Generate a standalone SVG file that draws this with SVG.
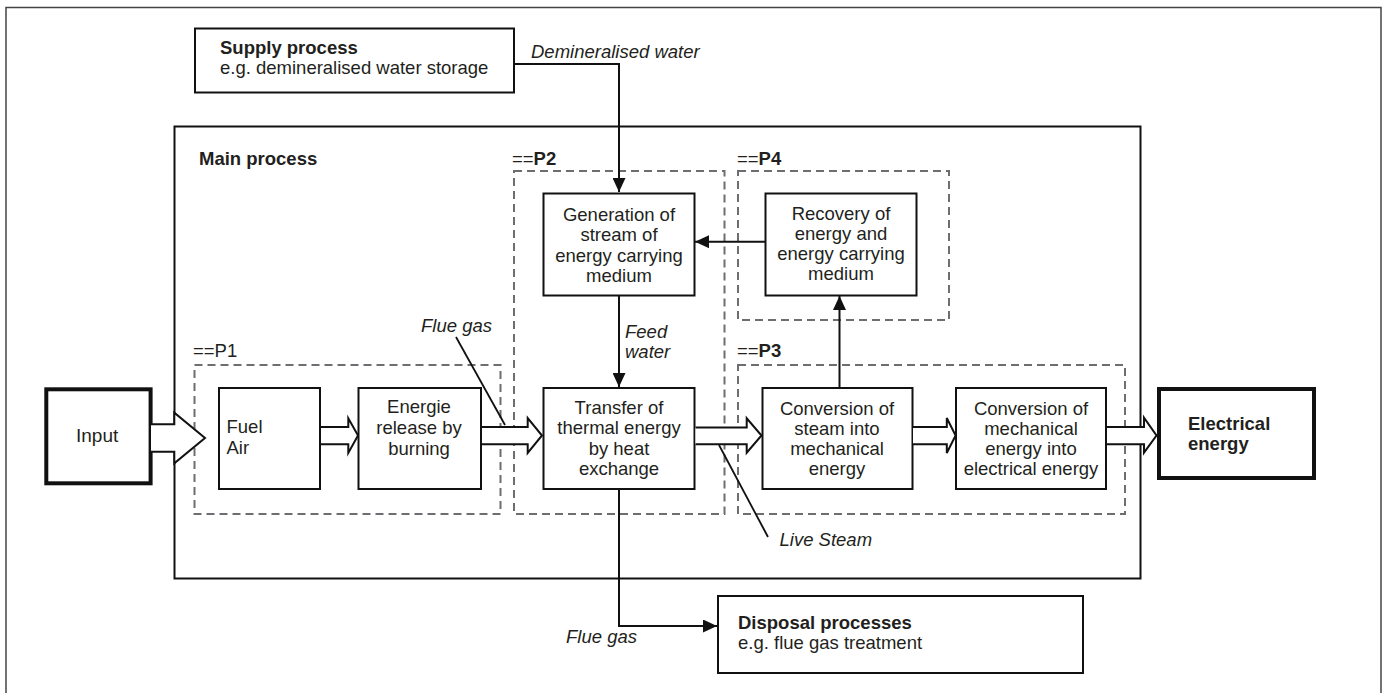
<svg xmlns="http://www.w3.org/2000/svg" width="1385" height="693" viewBox="0 0 1385 693">
  <defs>
    <style>
      text { font-family: "Liberation Sans", Arial, sans-serif; font-size: 18.5px; fill: #231f20; }
      .c { text-anchor: middle; }
      .b { font-weight: bold; }
      .i { font-style: italic; }
      .box { fill: #fff; stroke: #111; stroke-width: 2; }
      .thick { fill: #fff; stroke: #111; stroke-width: 4; }
      .group { fill: none; stroke: #6d6e71; stroke-width: 2; stroke-dasharray: 8 5; }
      .frame { fill: none; stroke: #444; stroke-width: 1.5; }
      .main { fill: none; stroke: #111; stroke-width: 2; }
      .flow { fill: none; stroke: #111; stroke-width: 2; }
      .block { fill: #fff; stroke: #111; stroke-width: 2; stroke-linejoin: miter; }
      .lead { fill: none; stroke: #111; stroke-width: 1.8; }
    </style>
    <marker id="head" markerUnits="userSpaceOnUse" markerWidth="14" markerHeight="13" refX="14" refY="6.5" orient="auto">
      <path d="M0,0 L14,6.5 L0,13 z" fill="#111"/>
    </marker>
  </defs>

  <!-- outer frame -->
  <rect class="frame" x="6" y="7.5" width="1375" height="700"/>

  <!-- supply process -->
  <g id="supply">
    <rect class="box" x="195" y="28.5" width="319" height="64"/>
    <text class="b" x="220" y="54">Supply process</text>
    <text x="220" y="74">e.g. demineralised water storage</text>
  </g>

  <!-- main process container -->
  <g id="main-process">
    <rect class="main" x="174.5" y="126.5" width="966" height="452"/>
    <text class="b" x="199" y="165">Main process</text>
  </g>

  <!-- sub-process groups -->
  <g id="P1">
    <rect class="group" x="194.5" y="365" width="306" height="149"/>
    <text x="193" y="357">==P1</text>
  </g>
  <g id="P2">
    <rect class="group" x="514" y="171" width="210.5" height="343"/>
    <text x="512" y="165">==<tspan class="b">P2</tspan></text>
  </g>
  <g id="P3">
    <rect class="group" x="738" y="365" width="387" height="149"/>
    <text x="737" y="357">==<tspan class="b">P3</tspan></text>
  </g>
  <g id="P4">
    <rect class="group" x="738" y="171" width="211" height="149"/>
    <text x="737" y="165">==<tspan class="b">P4</tspan></text>
  </g>

  <!-- input / output -->
  <g id="input">
    <rect class="thick" x="46.3" y="389.3" width="104.3" height="94"/>
    <text x="76" y="442" style="font-size:19px">Input</text>
  </g>
  <g id="electrical-energy">
    <rect class="thick" x="1159" y="389" width="155" height="89"/>
    <text class="b" x="1188" y="430">Electrical</text>
    <text class="b" x="1188" y="450">energy</text>
  </g>

  <!-- process steps -->
  <g id="fuel-air">
    <rect class="box" x="219" y="388" width="101" height="101"/>
    <text x="226.5" y="433">Fuel</text>
    <text x="226.5" y="454">Air</text>
  </g>
  <g id="energy-release">
    <rect class="box" x="358.5" y="388" width="122.5" height="101"/>
    <text class="c" x="419" y="413">Energie</text>
    <text class="c" x="419" y="434">release by</text>
    <text class="c" x="419" y="455">burning</text>
  </g>
  <g id="generation">
    <rect class="box" x="543.5" y="193.5" width="151" height="102"/>
    <text class="c" x="619" y="221">Generation of</text>
    <text class="c" x="619" y="241">stream of</text>
    <text class="c" x="619" y="261.5">energy carrying</text>
    <text class="c" x="619" y="281.5">medium</text>
  </g>
  <g id="transfer">
    <rect class="box" x="543.5" y="388" width="151" height="101"/>
    <text class="c" x="619" y="414">Transfer of</text>
    <text class="c" x="619" y="434">thermal energy</text>
    <text class="c" x="619" y="454.5">by heat</text>
    <text class="c" x="619" y="474.5">exchange</text>
  </g>
  <g id="recovery">
    <rect class="box" x="765.5" y="193.5" width="151" height="102"/>
    <text class="c" x="841" y="219.5">Recovery of</text>
    <text class="c" x="841" y="239.5">energy and</text>
    <text class="c" x="841" y="259.5">energy carrying</text>
    <text class="c" x="841" y="280">medium</text>
  </g>
  <g id="steam-conversion">
    <rect class="box" x="762.5" y="388" width="150" height="101"/>
    <text class="c" x="837" y="415">Conversion of</text>
    <text class="c" x="837" y="435">steam into</text>
    <text class="c" x="837" y="455">mechanical</text>
    <text class="c" x="837" y="475">energy</text>
  </g>
  <g id="mechanical-conversion">
    <rect class="box" x="956" y="388" width="150" height="101"/>
    <text class="c" x="1031" y="414.5">Conversion of</text>
    <text class="c" x="1031" y="435">mechanical</text>
    <text class="c" x="1031" y="455">energy into</text>
    <text class="c" x="1031" y="474.5">electrical energy</text>
  </g>

  <!-- disposal process -->
  <g id="disposal">
    <rect class="box" x="718" y="596" width="365" height="77"/>
    <text class="b" x="738" y="629">Disposal processes</text>
    <text x="738" y="649">e.g. flue gas treatment</text>
  </g>

  <!-- connectors -->
  <g id="connectors">
    <!-- thin flows with arrowheads -->
    <path class="flow" d="M514,64 H619 V192" marker-end="url(#head)"/>
    <path class="flow" d="M619,296 V387" marker-end="url(#head)"/>
    <path class="flow" d="M765,241.7 H695" marker-end="url(#head)"/>
    <path class="flow" d="M839.5,387 V296" marker-end="url(#head)"/>
    <path class="flow" d="M619,490 V626 H717" marker-end="url(#head)"/>

    <!-- block arrows along the main energy path -->
    <path class="block" d="M151,424.3 H174.3 V412.7 L205,438 L174.3,463.3 V451.7 H151"/>
    <path class="block" d="M321,427 H348.3 V418.3 L358,435.5 L348.3,453 V444.3 H321"/>
    <path class="block" d="M482,427 H527.7 V418 L542,435.5 L527.7,453 V444.3 H482"/>
    <path class="block" d="M695.5,427.5 H746.7 V418.3 L761.5,435.5 L746.7,452.7 V444.3 H695.5"/>
    <path class="block" d="M913,427 H946.8 V418 L955.6,435.5 L946.8,453 V444.3 H913"/>
    <path class="block" d="M1107,427 H1144 V417.7 L1156.5,435.5 L1144,452.7 V444.3 H1107"/>

    <!-- label leader lines -->
    <line class="lead" x1="456" y1="337" x2="505" y2="425"/>
    <line class="lead" x1="719" y1="445" x2="768" y2="537"/>
  </g>

  <!-- flow labels -->
  <g id="labels">
    <text class="i" x="531" y="58">Demineralised water</text>
    <text class="i" x="421" y="332">Flue gas</text>
    <text class="i" x="625" y="338">Feed</text>
    <text class="i" x="625" y="358">water</text>
    <text class="i" x="779.5" y="546">Live Steam</text>
    <text class="i" x="566" y="643">Flue gas</text>
  </g>
</svg>
